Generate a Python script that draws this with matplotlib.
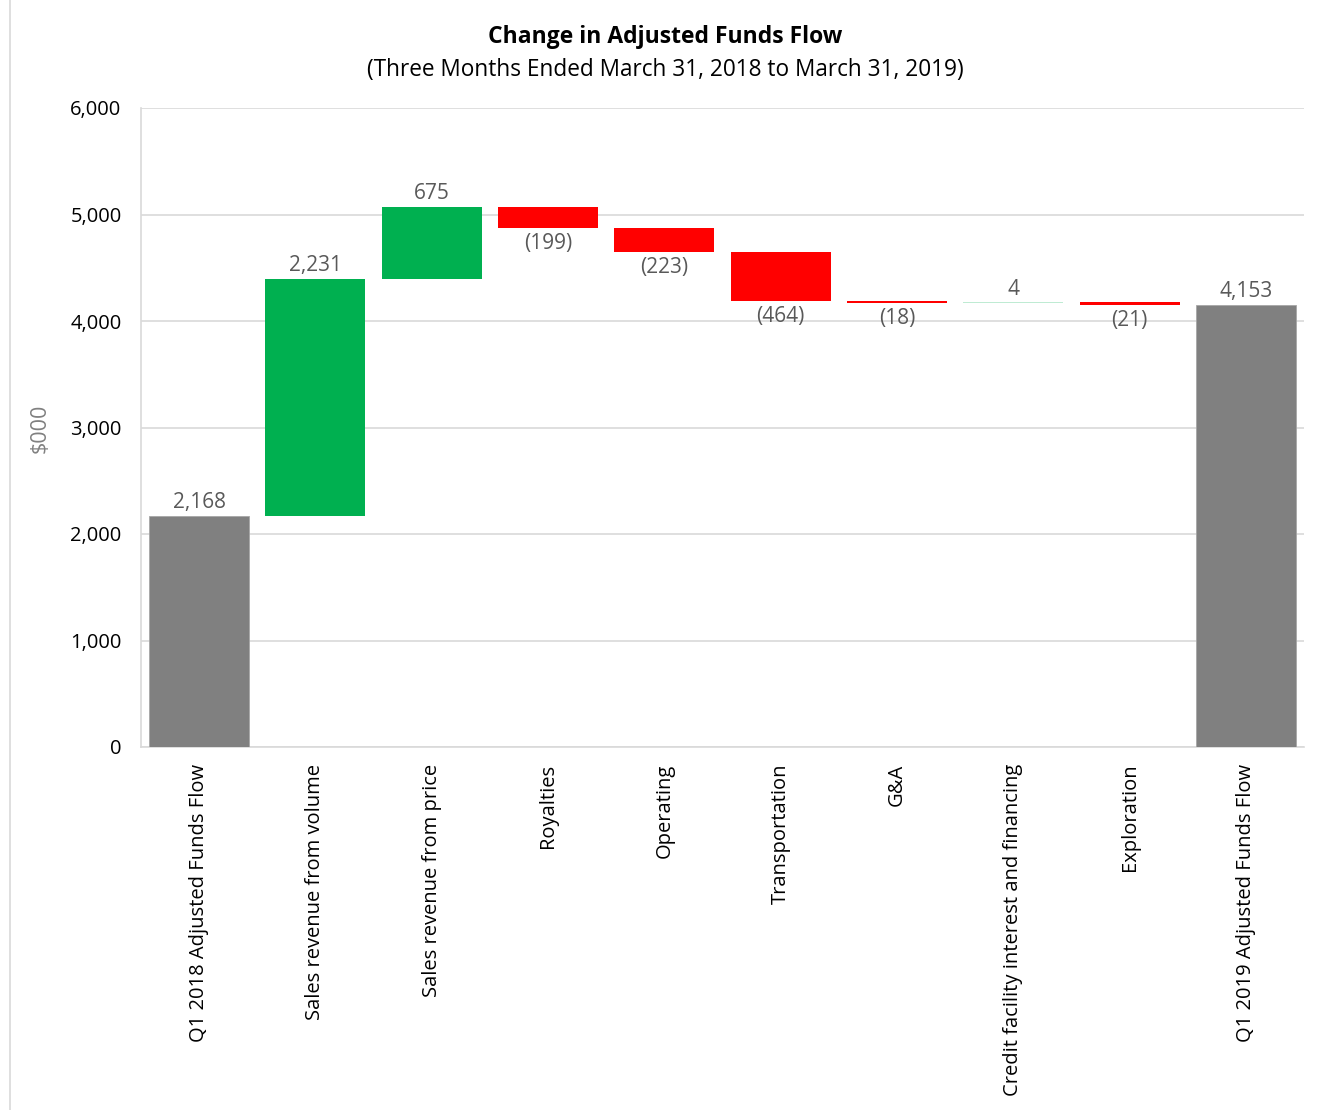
import matplotlib
matplotlib.use("Agg")
import matplotlib.pyplot as plt
from matplotlib.lines import Line2D

categories = ["Q1 2018 Adjusted Funds Flow", "Sales revenue from volume",
              "Sales revenue from price", "Royalties", "Operating", "Transportation",
              "G&A", "Credit facility interest and financing", "Exploration",
              "Q1 2019 Adjusted Funds Flow"]
values = [2168, 2231, 675, -199, -223, -464, -18, 4, -21, 4153]
kinds = ["total", "delta", "delta", "delta", "delta", "delta", "delta", "delta", "delta", "total"]
yticks = [0, 1000, 2000, 3000, 4000, 5000, 6000]

plt.rcParams['font.family'] = ['Open Sans', 'DejaVu Sans']

fig = plt.figure(figsize=(13.18, 11.10), dpi=100)
ax = fig.add_axes([141/1318, 1-747/1110, (1304-141)/1318, (747-108)/1110])

GREEN = "#00B050"
RED = "#FF0000"
GREY = "#808080"
LABEL = "#595959"
FS = 15

running = 0
for i, (v, k) in enumerate(zip(values, kinds)):
    if k == "total":
        running = v
        ax.bar(i, v, bottom=0, width=0.86, color=GREY, edgecolor="#A6A6A6", linewidth=0.6, zorder=3)
        ax.text(i, v + 25, f"{v:,}", ha="center", va="bottom", fontsize=FS, color=LABEL)
    else:
        if v >= 0:
            ax.bar(i, v, bottom=running, width=0.86, color=GREEN, linewidth=0, zorder=3,
                   alpha=1.0 if v > 10 else 0.25)
            ax.text(i, running + v + 25, f"{v:,}", ha="center", va="bottom", fontsize=FS, color=LABEL)
        else:
            bottom = running + v
            ax.bar(i, -v, bottom=bottom, width=0.86, color=RED, linewidth=0, zorder=3)
            ax.text(i, bottom - 50, f"({-v:,})", ha="center", va="top", fontsize=FS, color=LABEL)
        running += v

ax.set_xlim(-0.5, len(categories) - 0.5)
ax.set_ylim(0, 6000)
ax.set_yticks(yticks)
ax.set_yticklabels([f"{t:,}" for t in yticks], fontsize=14.5, color="#000000")
ax.set_xticks(range(len(categories)))
ax.set_xticklabels(categories, rotation=90, fontsize=14.5, color="#000000")
ax.tick_params(axis="x", length=0, pad=12)
ax.tick_params(axis="y", length=0, pad=14)
ax.grid(axis="y", color="#D9D9D9", linewidth=1.2, zorder=0)
ax.set_axisbelow(True)
for s in ["top", "right"]:
    ax.spines[s].set_visible(False)
for s in ["left", "bottom"]:
    ax.spines[s].set_color("#D9D9D9")
    ax.spines[s].set_linewidth(1.2)

fig.text(40/1318, 1-428/1110, "$000", rotation=90, ha="center", va="center", fontsize=15.5, color="#808080")
fig.text(665/1318, 1-37/1110, "Change in Adjusted Funds Flow", ha="center", va="center",
         fontsize=16.5, fontweight="bold", color="#000000")
fig.text(665/1318, 1-70/1110, "(Three Months Ended March 31, 2018 to March 31, 2019)", ha="center",
         va="center", fontsize=16.3, color="#000000")

fig.add_artist(Line2D([10/1318, 10/1318], [0, 1], transform=fig.transFigure, color="#D9D9D9", linewidth=1.2))

fig.savefig("out.png", dpi=100)
